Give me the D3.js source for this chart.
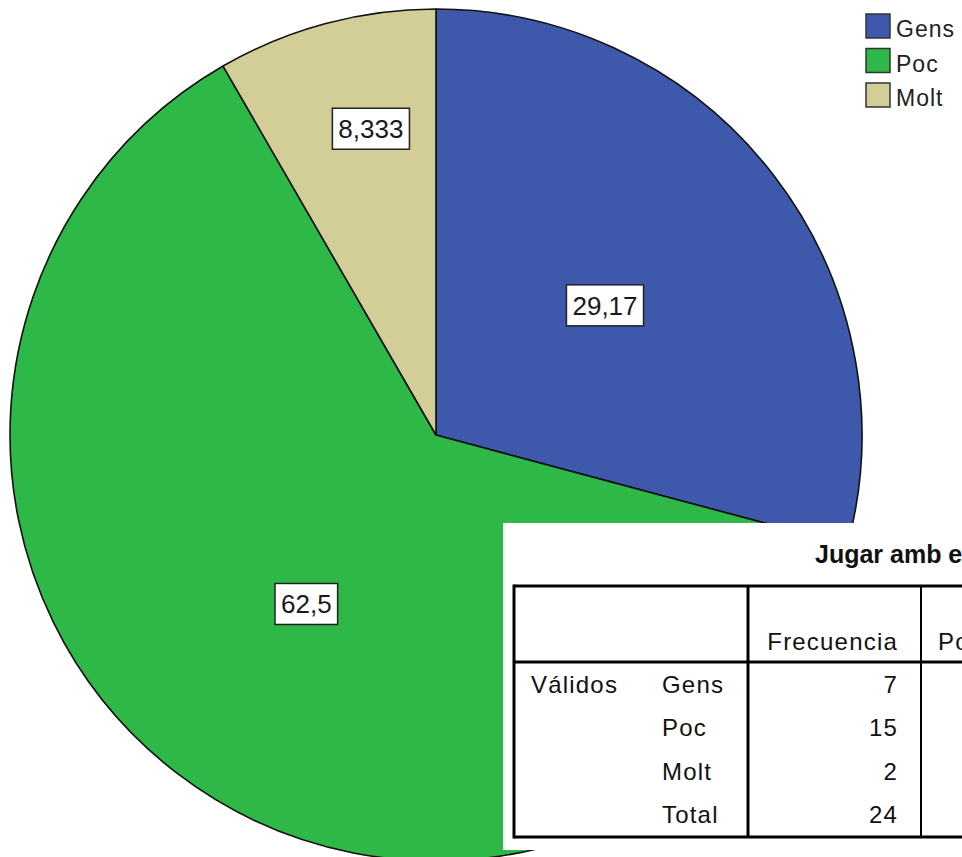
<!DOCTYPE html>
<html>
<head>
<meta charset="utf-8">
<script src="https://cdn.jsdelivr.net/npm/d3@7"></script>
<style>
  html, body { margin: 0; padding: 0; background: #fff; overflow: hidden; }
  svg { display: block; font-family: "Liberation Sans", Arial, sans-serif; }
</style>
</head>
<body>
<svg id="chart" width="962" height="857"></svg>
<script>
// Categories, pie percentages and the frequency table
const categories = ["Gens", "Poc", "Molt"];
const percents = [29.17, 62.5, 8.333];
const frequencies = [7, 15, 2];
const totalLabel = "Total";
const totalFrequency = 24;
const tableTitle = "Jugar amb e";
const rowGroup = "Válidos";
const columnHeaders = ["Frecuencia", "Po"];
const colors = ["#3E58AC", "#2EB848", "#D3CE97"];

(function draw() {
const svg = d3.select("#chart");
const W = 962, H = 857;
const cx = 436, cy = 435, R = 426;

const color = d3.scaleOrdinal().domain(categories).range(colors);
const fmt = v => String(v).replace(".", ",");

const pie = d3.pie().sort(null).value(d => d.value).startAngle(0).endAngle(2 * Math.PI);
const arcs = pie(categories.map((c, i) => ({ cat: c, value: percents[i] })));
const arc = d3.arc().innerRadius(0).outerRadius(R);

const g = svg.append("g").attr("transform", `translate(${cx},${cy})`);
g.selectAll("path.slice")
  .data(arcs)
  .join("path")
  .attr("class", "slice")
  .attr("d", arc)
  .attr("fill", d => color(d.data.cat))
  .attr("stroke", "#111")
  .attr("stroke-width", 1.6)
  .attr("stroke-linejoin", "round");

// Value labels in white boxes; narrow slices get their label further out
const labels = g.selectAll("g.lbl")
  .data(arcs)
  .join("g")
  .attr("class", "lbl")
  .attr("transform", d => {
    const span = d.endAngle - d.startAngle;
    const narrow = span < Math.PI / 4;
    const r = narrow ? R * 0.735 : R * 0.5;
    const a = d.startAngle + span * (narrow ? 0.6 : 0.5);
    return `translate(${Math.sin(a) * r},${-Math.cos(a) * r})`;
  });
labels.each(function(d) {
  const sel = d3.select(this);
  const rect = sel.append("rect");
  const t = sel.append("text")
    .attr("text-anchor", "middle")
    .attr("dy", "0.36em")
    .attr("font-size", 26)
    .attr("fill", "#1a1a1a")
    .text(fmt(d.data.value));
  const bb = t.node().getBBox();
  const w = bb.width + 12, h = 41;
  rect.attr("x", -w / 2).attr("y", -h / 2).attr("width", w).attr("height", h)
    .attr("fill", "#fff").attr("stroke", "#222").attr("stroke-width", 1.5);
});

// Legend
const legend = svg.append("g").attr("transform", "translate(866,14)");
const lg = legend.selectAll("g")
  .data(categories)
  .join("g")
  .attr("transform", (d, i) => `translate(0,${i * 34.5})`);
lg.append("rect")
  .attr("width", 24).attr("height", 24)
  .attr("fill", d => color(d))
  .attr("stroke", "#333").attr("stroke-width", 1.5);
lg.append("text")
  .attr("x", 30).attr("y", 23)
  .attr("font-size", 23)
  .attr("letter-spacing", 1)
  .attr("fill", "#222")
  .text(d => d);

// Frequency table panel
const tbl = svg.append("g");
tbl.append("rect")
  .attr("x", 503).attr("y", 523).attr("width", W - 503).attr("height", 327)
  .attr("fill", "#fff");
tbl.append("text")
  .attr("x", 815).attr("y", 563)
  .attr("font-size", 25).attr("font-weight", "bold")
  .attr("fill", "#111")
  .text(tableTitle);

const tLeft = 514, tTop = 586, tBottom = 837, headerBottom = 662;
const col1 = 748, col2 = 921;
const line = (x1, y1, x2, y2, w) => tbl.append("line")
  .attr("x1", x1).attr("y1", y1).attr("x2", x2).attr("y2", y2)
  .attr("stroke", "#000").attr("stroke-width", w);
line(tLeft, tTop, W + 5, tTop, 3);
line(tLeft, tBottom, W + 5, tBottom, 3);
line(tLeft, headerBottom, W + 5, headerBottom, 3);
line(tLeft, tTop - 1.5, tLeft, tBottom + 1.5, 3);
line(col1, tTop, col1, tBottom, 3);
line(col2, tTop, col2, tBottom, 2);

const ttext = (x, y, s, anchor) => tbl.append("text")
  .attr("x", x).attr("y", y)
  .attr("text-anchor", anchor || "start")
  .attr("font-size", 24)
  .attr("letter-spacing", 1.2)
  .attr("fill", "#111")
  .text(s);

ttext(898, 650, columnHeaders[0], "end");
ttext(938, 650, columnHeaders[1]);
ttext(531, 693, rowGroup);

const rowNames = categories.concat([totalLabel]);
const rowValues = frequencies.concat([totalFrequency]);
const rowY = d3.scalePoint().domain(d3.range(rowNames.length)).range([693, 823]);
rowNames.forEach((n, i) => {
  ttext(662, rowY(i), n);
  ttext(898, rowY(i), String(rowValues[i]), "end");
});
})();
</script>
</body>
</html>
